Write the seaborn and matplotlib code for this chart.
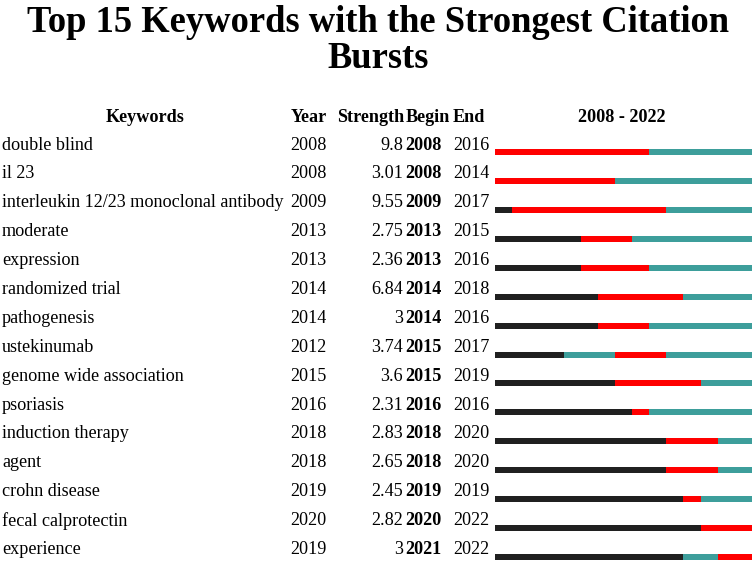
import matplotlib
matplotlib.use("Agg")
import matplotlib.pyplot as plt
import seaborn as sns
import pandas as pd

keywords = ["double blind", "il 23", "interleukin 12/23 monoclonal antibody", "moderate",
            "expression", "randomized trial", "pathogenesis", "ustekinumab",
            "genome wide association", "psoriasis", "induction therapy", "agent",
            "crohn disease", "fecal calprotectin", "experience"]
years = [2008, 2008, 2009, 2013, 2013, 2014, 2014, 2012, 2015, 2016, 2018, 2018, 2019, 2020, 2019]
strengths = ["9.8", "3.01", "9.55", "2.75", "2.36", "6.84", "3", "3.74", "3.6", "2.31",
             "2.83", "2.65", "2.45", "2.82", "3"]
begins = [2008, 2008, 2009, 2013, 2013, 2014, 2014, 2015, 2015, 2016, 2018, 2018, 2019, 2020, 2021]
ends = [2016, 2014, 2017, 2015, 2016, 2018, 2016, 2017, 2019, 2016, 2020, 2020, 2019, 2022, 2022]
start_year, end_year = 2008, 2022

sns.set_style("white")
plt.rcParams['font.family'] = ['Liberation Serif', 'DejaVu Serif']
plt.rcParams['text.color'] = 'black'

W, H = 754, 563
fig = plt.figure(figsize=(W / 100, H / 100), dpi=100)

def fx(px):
    return px / W

def fy(py):
    return 1 - py / H

fig.text(fx(378), fy(22), "Top 15 Keywords with the Strongest Citation", ha="center", va="center",
         fontsize=26.3, fontweight="bold")
fig.text(fx(378), fy(59), "Bursts", ha="center", va="center", fontsize=26.3, fontweight="bold")

hy = 117
fs = 13.1
fig.text(fx(145), fy(hy), "Keywords", ha="center", va="center", fontsize=fs, fontweight="bold")
fig.text(fx(291), fy(hy), "Year", ha="left", va="center", fontsize=fs, fontweight="bold")
fig.text(fx(404), fy(hy), "Strength", ha="right", va="center", fontsize=fs, fontweight="bold")
fig.text(fx(406), fy(hy), "Begin", ha="left", va="center", fontsize=fs, fontweight="bold")
fig.text(fx(453), fy(hy), "End", ha="left", va="center", fontsize=fs, fontweight="bold")
fig.text(fx(622), fy(hy), f"{start_year} - {end_year}", ha="center", va="center", fontsize=fs,
         fontweight="bold")

row0, step = 145, 28.9
for i, kw in enumerate(keywords):
    y = fy(row0 + i * step)
    fig.text(fx(2), y, kw, ha="left", va="center", fontsize=fs)
    fig.text(fx(290), y, str(years[i]), ha="left", va="center", fontsize=fs)
    fig.text(fx(403), y, strengths[i], ha="right", va="center", fontsize=fs)
    fig.text(fx(405), y, str(begins[i]), ha="left", va="center", fontsize=fs, fontweight="bold")
    fig.text(fx(453), y, str(ends[i]), ha="left", va="center", fontsize=fs)

# bar axes
bar_top_c, bar_bot_c = 152, 557
bstep = (bar_bot_c - bar_top_c) / 14
top_px = bar_top_c - 0.4 * bstep
bot_px = bar_bot_c + 0.2 * bstep
x0, x1 = 495, 752
ax = fig.add_axes([fx(x0), 1 - bot_px / H, (x1 - x0) / W, (bot_px - top_px) / H])

df = pd.DataFrame({
    "kw": keywords,
    "full": [end_year + 1 - start_year] * len(keywords),
    "red": [e + 1 - start_year for e in ends],
    "pre": [b - start_year for b in begins],
    "dark": [y - start_year for y in years],
})
teal = "#3D9E9B"
red = "#FF0000"
dark = "#202020"
bw = 6 / bstep
for col, c in [("full", teal), ("red", red), ("pre", teal), ("dark", dark)]:
    sns.barplot(data=df, x=col, y="kw", orient="h", color=c, width=bw, ax=ax,
                saturation=1, linewidth=0, errorbar=None)
ax.set_xlim(0, end_year + 1 - start_year)
ax.set_ylim(14.2, -0.4)
ax.axis("off")

fig.savefig("out.png", dpi=100)
